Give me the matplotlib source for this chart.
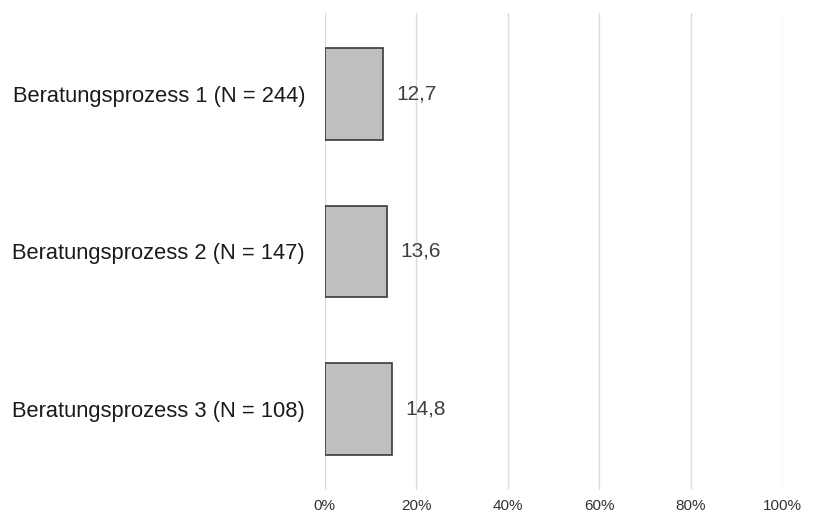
import matplotlib
matplotlib.use("Agg")
import matplotlib.pyplot as plt
from matplotlib.ticker import FuncFormatter

plt.rcParams['font.family'] = ['Liberation Sans', 'DejaVu Sans']

categories = ["Beratungsprozess 1 (N = 244)",
              "Beratungsprozess 2 (N = 147)",
              "Beratungsprozess 3 (N = 108)"]
values = [12.7, 13.6, 14.8]
xticks = [0, 20, 40, 60, 80, 100]

fig = plt.figure(figsize=(8.14, 5.13), dpi=100)
ax = fig.add_axes([0.3987, 0.0448, 0.5629, 0.9299])

ypos = list(range(len(categories)))
bars = ax.barh(ypos, values, height=0.584, color="#bfbfbf",
               edgecolor="#3a3a3a", linewidth=1.2, zorder=3)

for y, v in zip(ypos, values):
    ax.annotate(f"{v:.1f}".replace(".", ","), xy=(v, y), xytext=(9.5, 0),
                textcoords="offset points", va="center", ha="left",
                fontsize=15, color="#404040")

ax.set_xlim(0, 100)
ax.set_ylim(2.515, -0.515)
ax.set_xticks(xticks)
ax.xaxis.set_major_formatter(FuncFormatter(lambda x, p: f"{int(x)}%"))
ax.set_yticks(ypos)
ax.set_yticklabels(categories, fontsize=15.75, color="#1a1a1a")
ax.tick_params(axis="y", length=0, pad=14)
ax.tick_params(axis="x", length=0, pad=6.5, labelsize=11, labelcolor="#333333")
ax.grid(axis="x", color="#dcdcdc", linewidth=1.0, zorder=0)
for s in ax.spines.values():
    s.set_visible(False)

fig.savefig("out.png", dpi=100)
